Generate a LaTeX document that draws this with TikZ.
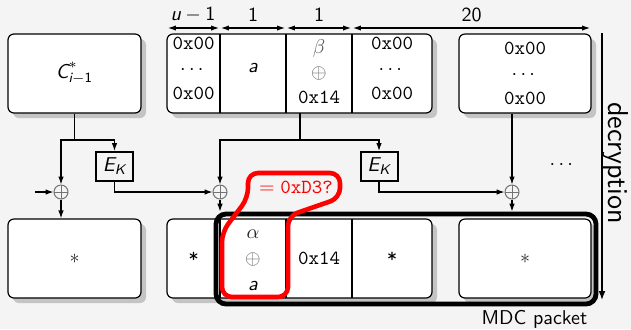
\documentclass[tikz,border=0pt]{standalone}
\usepackage{amsmath}
\usetikzlibrary{arrows.meta,shadows}
\definecolor{pagebg}{HTML}{F4F4F4}
\definecolor{shadowgrey}{HTML}{C4C4C4}
\newcommand\mvar[1]{\textsf{\itshape #1}}

\begin{document}
\begin{tikzpicture}[x=0.5pt,y=-0.5pt,font=\sffamily,
  blk/.style={draw,fill=white,line width=0.6pt,rounded corners=3pt,inner sep=0pt,
    drop shadow={shadow xshift=2.5pt,shadow yshift=-2.5pt,fill=shadowgrey,opacity=1}},
  cell/.style={align=center,inner sep=0pt},
  hex/.style={cell,font=\ttfamily},
  arr/.style={-{Latex[length=4pt,width=2.8pt]},line width=0.6pt},
  dim/.style={{Latex[length=4pt,width=2.6pt]}-{Latex[length=4pt,width=2.6pt]},line width=0.6pt,
    shorten <=0.4pt,shorten >=0.4pt},
  xor/.style={circle,draw=black!55,line width=0.5pt,minimum size=7pt,inner sep=0pt,
    path picture={\draw[black!55,line width=0.5pt]
      (path picture bounding box.north) -- (path picture bounding box.south)
      (path picture bounding box.west) -- (path picture bounding box.east);}},
  ek/.style={draw,line width=1pt,minimum width=18.5pt,minimum height=14.5pt,inner sep=0pt},
  divider/.style={line width=0.6pt}]

% canvas
\fill[pagebg] (0,0) rectangle (631,329);
\useasboundingbox (0,0) rectangle (631,329);

% byte-length markers
\coordinate (d0) at (167,28);
\coordinate (d1) at (220,28);
\coordinate (d2) at (286,28);
\coordinate (d3) at (352,28);
\coordinate (d4) at (591,28);
\draw[dim] (d0) -- (d1);
\draw[dim] (d1) -- (d2);
\draw[dim] (d2) -- (d3);
\draw[dim] (d3) -- (d4);
\node (lu)  at (193,15) {$\mvar{u}-\textsf{1}$};
\node (la)  at (253,15) {1};
\node (lb)  at (319,15) {1};
\node (lz)  at (471.5,15) {20};

% ciphertext row
\node[blk,minimum width=66.5pt,minimum height=39.5pt] (cprev) at (74.5,73.5)
  {$\mvar{C}^{*}_{\mvar{i}-\textsf{1}}$};
\node[blk,minimum width=132.5pt,minimum height=39.5pt] (topmid) at (299.5,73.5) {};
\node[blk,minimum width=66pt,minimum height=39.5pt] (topright) at (525,73.5) {};
\foreach \x in {220,286,352} \draw[divider] (\x,34) -- (\x,113);

\node[hex] (t1) at (193.5,68) {0x00\\[0.5pt]$\cdots$\\[0.5pt]0x00};
\node[cell] (t2) at (253,68) {\mvar{a}};
\node[cell] (t3) at (319,72) {\textcolor{black!65}{$\beta$}\\[0.5pt]\textcolor{black!60}{$\oplus$}\\[0.5pt]\texttt{0x14}};
\node[hex] (t4) at (392,68) {0x00\\[0.5pt]$\cdots$\\[0.5pt]0x00};
\node[hex] (t5) at (525,73) {0x00\\[0.5pt]$\cdots$\\[0.5pt]0x00};

% plaintext row
\node[blk,minimum width=66.5pt,minimum height=39.5pt] (pprev) at (74.5,258.5) {};
\node[blk,minimum width=132.5pt,minimum height=39.5pt] (botmid) at (299.5,258.5) {};
\node[blk,minimum width=66pt,minimum height=39.5pt] (botright) at (525,258.5) {};
\foreach \x in {220,286,352} \draw[divider] (\x,219) -- (\x,298);

\node[cell,text=black!85] (p0) at (74.5,259) {$\ast$};
\node[cell] (p1) at (193.5,257) {\texttt{*}};
\node[cell] (p2) at (253,260) {\textcolor{black!85}{$\alpha$}\\[1pt]\textcolor{black!60}{$\oplus$}\\[1pt]\mvar{a}};
\node[hex] (p3) at (319,258) {0x14};
\node[cell] (p4) at (392,257) {\texttt{*}};
\node[cell,text=black!85] (p5) at (525,259) {$\ast$};

% CFB decryption network
\node[xor] (x1) at (61,192) {};
\node[xor] (x2) at (220,192) {};
\node[xor] (x3) at (512,192) {};
\node[ek] (e1) at (114.5,166.5) {$\mvar{E}_{\mvar{K}}$};
\node[ek] (e2) at (379,166.5) {$\mvar{E}_{\mvar{K}}$};
\coordinate (j1) at (74.5,140);
\coordinate (s2) at (300,113);
\coordinate (j2) at (300,140);
\coordinate (ivin) at (35,192);

\draw[line width=0.6pt] (cprev.south) -- (j1);
\draw[arr] (j1) -| (x1.north);
\draw[arr] (j1) -| (e1.north);
\draw[arr] (ivin) -- (x1.west);
\draw[arr] (x1.south) -- (x1 |- pprev.north);
\draw[arr] (e1.south) |- (x2.west);

\draw[line width=0.6pt] (s2) -- (j2);
\draw[arr] (j2) -| (x2.north);
\draw[arr] (j2) -| (e2.north);
\draw[arr] (e2.south) |- (x3.west);
\draw[arr] (topright.south -| x3) -- (x3.north);

\node (more) at (563,165) {$\cdots$};

% MDC packet frame
\node[draw,line width=2.4pt,rounded corners=5pt,minimum width=190pt,minimum height=45pt,
  inner sep=0pt] (mdc) at (406,259) {};
\node (mdclabel) at (534.5,319) {MDC packet};
\draw[arr] (x2.south) -- (x2 |- mdc.north);
\draw[arr] (x3.south) -- (x3 |- mdc.north);

% direction of decryption
\coordinate (dectop) at (602,33);
\coordinate (decbot) at (602,300);
\draw[arr,-{Latex[length=4.5pt,width=3.4pt]}] (dectop) -- (decbot);
\node[rotate=-90,font=\Large\sffamily] (declabel) at (616,163) {decryption};

% quick check on the first plaintext byte
\draw[red,line width=2.3pt,rounded corners=5pt]
  (222,297) -- (222,232) -- (248,198) -- (248,173) -- (340,173) -- (340,198)
  -- (288,216) -- (288,297) -- cycle;
\node[text=red] (check) at (296,187) {$=\texttt{0xD3?}$};
\end{tikzpicture}
\end{document}
